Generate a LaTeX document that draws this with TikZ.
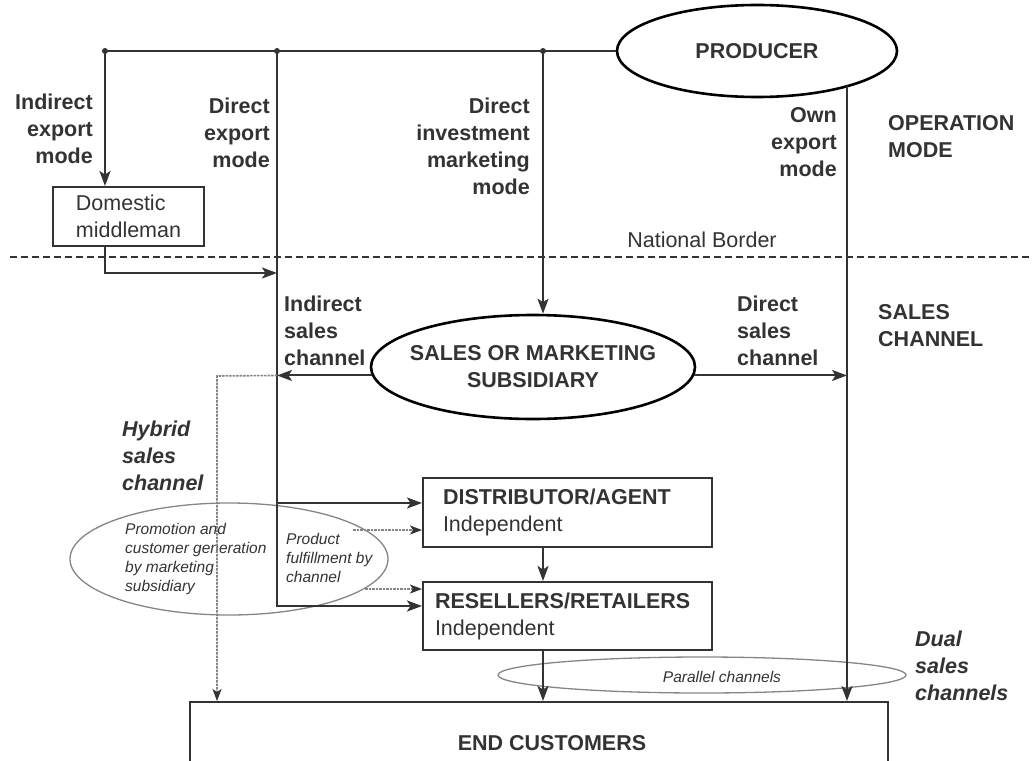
\documentclass[tikz,border=0pt]{standalone}
\usepackage{fontspec}
\setmainfont{Liberation Sans}
\usetikzlibrary{shapes.geometric,arrows.meta,calc}
\definecolor{ink}{HTML}{333333}
\definecolor{soft}{HTML}{858585}
\begin{document}
\begin{tikzpicture}[x=1pt,y=-1pt,
  line/.style={draw=ink,line width=2pt},
  arr/.style={line,-{Stealth[length=15pt,width=11pt,inset=3.5pt]}},
  lbl/.style={inner sep=0pt,text=ink,font=\fontsize{21.5}{27}\selectfont\bfseries},
  reglbl/.style={inner sep=0pt,text=ink,font=\fontsize{21.5}{27}\selectfont},
  bilbl/.style={inner sep=0pt,text=ink,font=\fontsize{21.5}{27}\selectfont\bfseries\itshape},
  smalllbl/.style={inner sep=0pt,text=ink,font=\fontsize{15.5}{19}\selectfont\itshape},
  bigell/.style={ellipse,draw=black,line width=2.6pt,inner sep=0pt},
  thinell/.style={ellipse,draw=soft,line width=1.3pt,inner sep=0pt},
  box/.style={rectangle,draw=ink,line width=2pt},
  hyb/.style={draw=soft,line width=1.6pt,dash pattern=on 2.5pt off 1pt},
  harr/.style={hyb,-{Stealth[length=12pt,width=9pt,inset=3pt,color=ink]}},
]
\useasboundingbox (0,0) rectangle (1032,760);
\clip (0,0) rectangle (1032,760);

% thin grey ellipses
\node[thinell,minimum width=318pt,minimum height=112pt] (promo) at (229,559) {};
\node[thinell,minimum width=408pt,minimum height=36pt] (par) at (702,675) {};

% main nodes
\node[bigell,lbl,minimum width=280pt,minimum height=92pt] (prod) at (757,51) {PRODUCER};
\node[box,reglbl,minimum width=151pt,minimum height=59pt,align=left] (dm) at (128.5,216.5) {Domestic\\middleman};
\node[bigell,minimum width=324pt,minimum height=104pt,
  label={[lbl,align=center]center:{SALES OR MARKETING\\SUBSIDIARY}}] (sms) at (533,367) {};
\node[box,reglbl,inner xsep=20pt,text width=249pt,minimum height=69pt,align=left] (dist) at (567.5,512.5) {{\bfseries DISTRIBUTOR/AGENT}\\Independent};
\node[box,reglbl,inner xsep=12pt,text width=265pt,minimum height=68pt,align=left] (res) at (567.5,616) {{\bfseries RESELLERS/RETAILERS}\\Independent};
\node[box,lbl,minimum width=698pt,minimum height=82pt] (ec) at (539,743) {\hspace*{26pt}END CUSTOMERS};

% labels
\node[lbl,align=right,anchor=east] (t1) at (93,128.5) {Indirect\\export\\mode};
\node[lbl,align=right,anchor=east] (t2) at (270,133) {Direct\\export\\mode};
\node[lbl,align=right,anchor=east] (t3) at (530,146.5) {Direct\\investment\\marketing\\mode};
\node[lbl,align=right,anchor=east] (t4) at (837,142) {Own\\export\\mode};
\node[lbl,align=left,anchor=west] (t5) at (888,137) {OPERATION\\MODE};
\node[reglbl] (t6) at (702,240) {National Border};
\node[lbl,align=left,anchor=west] (t7) at (284,331) {Indirect\\sales\\channel};
\node[lbl,align=left,anchor=west] (t8) at (737,331) {Direct\\sales\\channel};
\node[lbl,align=left,anchor=west] (t9) at (878,326) {SALES\\CHANNEL};
\node[bilbl,align=left,anchor=west] (t10) at (122,456) {Hybrid\\sales\\channel};
\node[smalllbl,align=left,anchor=west] (t11) at (125,559) {Promotion and\\customer generation\\by marketing\\subsidiary};
\node[smalllbl,align=left,anchor=west] (t12) at (286,558) {Product\\fulfillment by\\channel};
\node[smalllbl] (t13) at (722,677) {Parallel channels};
\node[bilbl,align=left,anchor=west] (t14) at (915,666) {Dual\\sales\\channels};

% national border
\coordinate (nb1) at (10,257);
\coordinate (nb2) at (1032,257);
\draw[ink,line width=1.6pt,dash pattern=on 7pt off 4pt] (nb1) -- (nb2);

% junctions
\coordinate (j1) at (105,51);
\coordinate (j2) at (277,51);
\coordinate (j3) at (543,51);
\coordinate (m1) at (277,273);
\coordinate (d1) at (277,503);
\coordinate (d2) at (277,606);
\coordinate (o1) at (847,86);
\coordinate (h1) at (217,376);
\coordinate (pa) at (353,530);
\coordinate (pb) at (365,589);

% connectors
\draw[line] (j1) -- (prod.west);
\draw[arr] (j1) -- (j1 |- dm.north);
\draw[arr] (j1 |- dm.south) |- (m1);
\draw[arr] (j2) -- (d2) -- (d2 -| res.west);
\draw[arr] (d1) -- (d1 -| dist.west);
\draw[arr] (j3) -- (j3 |- sms.north);
\draw[arr] (o1) -- (o1 |- ec.north);
\draw[arr] (sms.-3.2) -- (sms.-3.2 -| o1);
\draw[arr] (sms.183.2) -- (sms.183.2 -| j2);
\draw[harr] (sms.183.2 -| j2) -- (h1) -- (h1 |- ec.north);
\draw[harr] (pa) -- (pa -| dist.west);
\draw[harr] (pb) -- (pb -| res.west);
\draw[arr] (j3 |- dist.south) -- (j3 |- res.north);
\draw[arr] (j3 |- res.south) -- (j3 |- ec.north);

\fill[ink] (j1) circle (3);
\fill[ink] (j2) circle (3);
\fill[ink] (j3) circle (3);
\end{tikzpicture}
\end{document}
